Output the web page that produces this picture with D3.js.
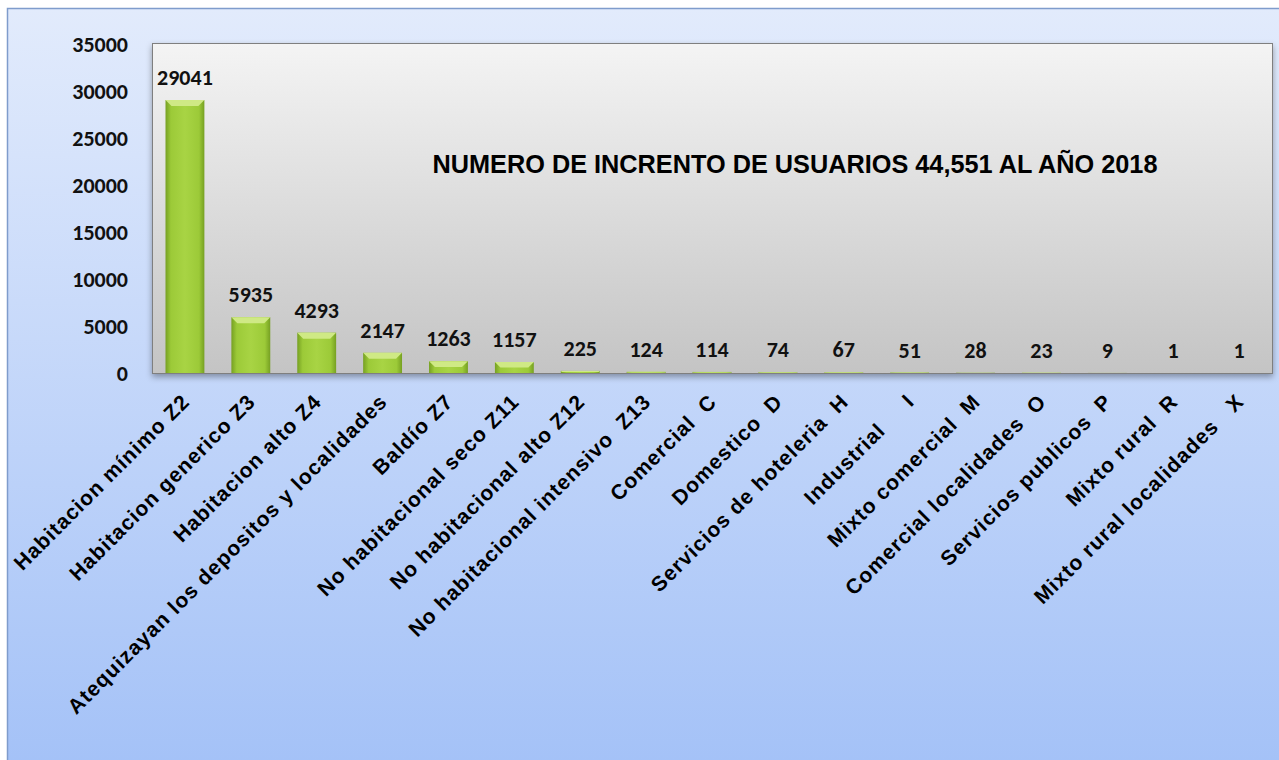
<!DOCTYPE html>
<html>
<head>
<meta charset="utf-8">
<script src="https://cdn.jsdelivr.net/npm/d3@7"></script>
<style>
  html, body { margin: 0; padding: 0; background: #ffffff; overflow: hidden; }
  #container { width: 1279px; height: 760px; }
</style>
</head>
<body>
<div id="container"></div>
<script>
/**
 * CONSTANTS AND GLOBALS
 * */
const width = 1279,
  height = 760,
  margin = { top: 44, bottom: 387, left: 152, right: 7 };

// categories (x axis labels), values and y ticks
const categories = [
  "Habitacion mínimo Z2",
  "Habitacion generico Z3",
  "Habitacion alto Z4",
  "Atequizayan los depositos y localidades",
  "Baldío Z7",
  "No habitacional seco Z11",
  "No habitacional alto Z12",
  "No habitacional intensivo  Z13",
  "Comercial  C",
  "Domestico  D",
  "Servicios de hoteleria  H",
  "Industrial     I",
  "Mixto comercial  M",
  "Comercial localidades  O",
  "Servicios publicos  P",
  "Mixto rural  R",
  "Mixto rural localidades   X"
];
const values = [29041, 5935, 4293, 2147, 1263, 1157, 225, 124, 114, 74, 67, 51, 28, 23, 9, 1, 1];
const yTicks = [0, 5000, 10000, 15000, 20000, 25000, 30000, 35000];
const title = "NUMERO DE INCRENTO DE USUARIOS 44,551 AL AÑO 2018";

let svg;

function init() {
  svg = d3.select("#container")
    .append("svg")
    .attr("width", width)
    .attr("height", height);

  const defs = svg.append("defs");

  // outer background: light blue fading to a stronger blue
  const bg = defs.append("linearGradient").attr("id", "bg")
    .attr("x1", 0).attr("y1", 0).attr("x2", 0).attr("y2", 1);
  bg.append("stop").attr("offset", "0%").attr("stop-color", "#e2ebfc");
  bg.append("stop").attr("offset", "100%").attr("stop-color", "#a3c1f7");

  // plot area: light grey to darker grey
  const plotBg = defs.append("linearGradient").attr("id", "plotBg")
    .attr("x1", 0).attr("y1", 0).attr("x2", 0).attr("y2", 1);
  plotBg.append("stop").attr("offset", "0%").attr("stop-color", "#f4f4f4");
  plotBg.append("stop").attr("offset", "100%").attr("stop-color", "#c4c4c4");

  // bar body, darker at the sides
  const barGrad = defs.append("linearGradient").attr("id", "barGrad")
    .attr("x1", 0).attr("y1", 0).attr("x2", 1).attr("y2", 0);
  barGrad.append("stop").attr("offset", "0%").attr("stop-color", "#76a022");
  barGrad.append("stop").attr("offset", "14%").attr("stop-color", "#9cca38");
  barGrad.append("stop").attr("offset", "50%").attr("stop-color", "#a8d444");
  barGrad.append("stop").attr("offset", "86%").attr("stop-color", "#9cca38");
  barGrad.append("stop").attr("offset", "100%").attr("stop-color", "#76a022");

  const shadow = defs.append("filter").attr("id", "shadow")
    .attr("x", "-5%").attr("y", "-5%").attr("width", "110%").attr("height", "115%");
  shadow.append("feDropShadow").attr("dx", 0).attr("dy", 3).attr("stdDeviation", 3)
    .attr("flood-color", "#000").attr("flood-opacity", 0.35);

  // chart frame
  svg.append("rect")
    .attr("x", 7.5).attr("y", 8.5)
    .attr("width", width + 10).attr("height", height + 10)
    .attr("fill", "url(#bg)")
    .attr("stroke", "#7f9ccc").attr("stroke-width", 1.5);

  const x = d3.scaleBand()
    .domain(categories)
    .range([margin.left, width - margin.right])
    .paddingInner(0.41)
    .paddingOuter(0.205);

  const y = d3.scaleLinear()
    .domain([0, 35000])
    .range([height - margin.bottom, margin.top]);

  // plot area
  svg.append("rect")
    .attr("x", margin.left + 0.5).attr("y", y(35000) - 0.5)
    .attr("width", width - margin.right - margin.left)
    .attr("height", y(0) - y(35000) + 1)
    .attr("fill", "url(#plotBg)")
    .attr("stroke", "#7f7f7f").attr("stroke-width", 1)
    .attr("filter", "url(#shadow)");

  // y axis labels
  const yAxis = d3.axisLeft(y).tickValues(yTicks).tickSize(0).tickPadding(24)
    .tickFormat(d3.format("d"));
  svg.append("g")
    .attr("transform", `translate(${margin.left},0)`)
    .call(yAxis)
    .call(g => g.select(".domain").remove())
    .selectAll("text")
    .attr("font-family", "Carlito, Lato, 'Open Sans', sans-serif")
    .attr("font-weight", "bold")
    .attr("font-size", 22)
    .attr("fill", "#111");

  // bars
  const bars = svg.selectAll("g.bar")
    .data(values)
    .join("g")
    .attr("class", "bar");

  bars.append("rect")
    .attr("x", (d, i) => x(categories[i]))
    .attr("y", d => y(d))
    .attr("width", x.bandwidth())
    .attr("height", d => y(0) - y(d))
    .attr("fill", "url(#barGrad)");

  // top bevel of each bar
  bars.append("path")
    .attr("d", (d, i) => {
      const x0 = x(categories[i]), x1 = x0 + x.bandwidth();
      const top = y(d);
      const b = Math.min(6, (y(0) - top) / 2);
      return `M${x0},${top}L${x1},${top}L${x1 - b},${top + b}L${x0 + b},${top + b}Z`;
    })
    .attr("fill", "#cfe985");

  // value labels
  svg.selectAll("text.value")
    .data(values)
    .join("text")
    .attr("class", "value")
    .attr("x", (d, i) => x(categories[i]) + x.bandwidth() / 2)
    .attr("y", d => y(d) - 15)
    .attr("text-anchor", "middle")
    .attr("font-family", "Carlito, Lato, 'Open Sans', sans-serif")
    .attr("font-weight", "bold")
    .attr("font-size", 22)
    .attr("fill", "#111")
    .text(d => d);

  // category labels, rotated
  svg.selectAll("text.cat")
    .data(categories)
    .join("text")
    .attr("class", "cat")
    .attr("transform", d => `translate(${x(d) + x.bandwidth() / 2 + 6},403) rotate(-45)`)
    .attr("text-anchor", "end")
    .attr("font-family", "'Liberation Sans', Arial, sans-serif")
    .attr("font-weight", "bold")
    .attr("font-size", 21)
    .attr("letter-spacing", 1)
    .attr("fill", "#000")
    .style("white-space", "pre")
    .text(d => d);

  // title inside the plot area
  svg.append("text")
    .attr("x", 795)
    .attr("y", 173)
    .attr("text-anchor", "middle")
    .attr("font-family", "'Liberation Sans Narrow', 'Liberation Sans', Arial, sans-serif")
    .attr("font-weight", "bold")
    .attr("font-size", 26)
    .attr("textLength", 725)
    .attr("lengthAdjust", "spacingAndGlyphs")
    .attr("fill", "#000")
    .text(title);
}

init();
</script>
</body>
</html>
